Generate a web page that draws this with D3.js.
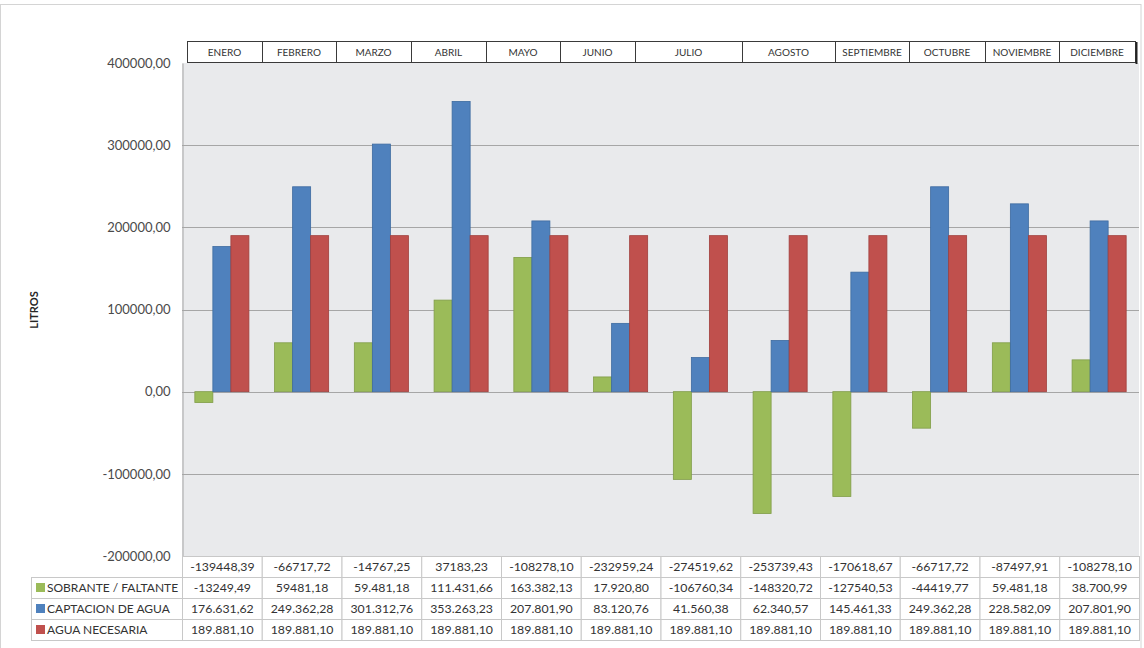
<!DOCTYPE html>
<html><head><meta charset="utf-8">
<script src="https://cdn.jsdelivr.net/npm/d3@7"></script>
<style>
body{margin:0;background:#fff}
svg{display:block;font-family:Lato,'Open Sans',sans-serif}
</style>
</head><body>
<svg id="c" width="1144" height="648"></svg>
<script>
// ---------- DATA ----------
const months = ["ENERO","FEBRERO","MARZO","ABRIL","MAYO","JUNIO","JULIO","AGOSTO","SEPTIEMBRE","OCTUBRE","NOVIEMBRE","DICIEMBRE"];
const seriesNames = ["SOBRANTE / FALTANTE","CAPTACION DE AGUA","AGUA NECESARIA"];
const sobrante = [-13249.49,59481.18,59481.18,111431.66,163382.13,17920.80,-106760.34,-148320.72,-127540.53,-44419.77,59481.18,38700.99];
const captacion = [176631.62,249362.28,301312.76,353263.23,207801.90,83120.76,41560.38,62340.57,145461.33,249362.28,228582.09,207801.90];
const necesaria = [189881.10,189881.10,189881.10,189881.10,189881.10,189881.10,189881.10,189881.10,189881.10,189881.10,189881.10,189881.10];
const diferencia = [-139448.39,-66717.72,-14767.25,37183.23,-108278.10,-232959.24,-274519.62,-253739.43,-170618.67,-66717.72,-87497.91,-108278.10];
const yTicks = [-200000,-100000,0,100000,200000,300000,400000];
const sobrantePlainIdx = [0,1,6,7,8,9]; // cells shown without thousands separator
const axisTitle = "LITROS";

// ---------- LAYOUT ----------
const W = 1144, H = 648;
const plot = {l:182, r:1139, t:63, b:556};
const headerEdges = [187,262,336,411,486,560,635,742,835,909,985,1059,1135];
const headerTop = 41, headerH = 21;
const rowH = 21;
const labelColLeft = 31;
const colors = ["#9BBB59","#4F81BD","#C0504D"];
const strokes = ["#809D48","#3E6BA0","#A03F3C"];

const svg = d3.select("#c");

// chart frame
svg.append("rect").attr("x",0.5).attr("y",4.5).attr("width",1140.5).attr("height",660)
  .attr("fill","none").attr("stroke","#d4d4d4");

const y = d3.scaleLinear().domain([-200000,400000]).range([plot.b, plot.t]);
const cols = d3.scaleBand().domain(months).range([plot.l, plot.r]);
const x0 = d3.scaleBand().domain(months).range([plot.l, plot.r]).paddingInner(0.322).paddingOuter(0.161);
const x1 = d3.scaleBand().domain(seriesNames).range([0, x0.bandwidth()]);

// plot background
svg.append("rect").attr("x",plot.l).attr("y",plot.t).attr("width",plot.r-plot.l).attr("height",plot.b-plot.t)
  .attr("fill","#E9EAEC");

// gridlines
svg.append("g").selectAll("line").data(yTicks.filter(d=>d>-200000 && d<400000)).join("line")
  .attr("x1",plot.l).attr("x2",plot.r)
  .attr("y1",d=>Math.round(y(d))+0.5).attr("y2",d=>Math.round(y(d))+0.5)
  .attr("stroke","#A6A6A6").attr("stroke-width",1);

// y axis
const locPlain = d3.formatLocale({decimal:",",thousands:"",grouping:[3],currency:["",""],minus:"-"});
const locDot = d3.formatLocale({decimal:",",thousands:".",grouping:[3],currency:["",""],minus:"-"});
const fmtAxis = locPlain.format(".2f");
const fmtDot = locDot.format(",.2f");
const yAxis = d3.axisLeft(y).tickValues(yTicks).tickFormat(fmtAxis).tickSize(0).tickPadding(12);
const ga = svg.append("g").attr("transform",`translate(${plot.l+0.5},0)`).call(yAxis);
ga.select(".domain").attr("stroke","#A6A6A6");
ga.selectAll("text").attr("font-size","13px").attr("fill","#4a4a4a").attr("font-family","Lato,'Open Sans',sans-serif");

// axis title
svg.append("text").attr("transform","translate(38,310) rotate(-90)")
  .attr("text-anchor","middle").attr("font-size","11px").attr("font-weight","bold").attr("fill","#262626")
  .text(axisTitle);

// bars
const series = [sobrante, captacion, necesaria];
const barData = [];
months.forEach((m,i)=>series.forEach((s,k)=>barData.push({m, k, v:s[i]})));
svg.append("g").selectAll("rect").data(barData).join("rect")
  .attr("x",d=>x0(d.m)+x1(seriesNames[d.k]))
  .attr("width",x1.bandwidth())
  .attr("y",d=>y(Math.max(0,d.v)))
  .attr("height",d=>Math.abs(y(d.v)-y(0)))
  .attr("fill",d=>colors[d.k]).attr("stroke",d=>strokes[d.k]).attr("stroke-width",0.8);

// header (month names)
const hg = svg.append("g");
months.forEach((m,i)=>{
  const xa = headerEdges[i], xb = headerEdges[i+1];
  hg.append("rect").attr("x",xa+0.5).attr("y",headerTop+0.5).attr("width",xb-xa).attr("height",headerH)
    .attr("fill","#fff").attr("stroke","#3a3a3a").attr("stroke-width",1);
  hg.append("text").attr("x",(xa+xb)/2).attr("y",headerTop+headerH/2+4)
    .attr("text-anchor","middle").attr("font-size","10px").attr("fill","#333").text(m);
});
hg.append("line").attr("x1",headerEdges[12]+1.5).attr("x2",headerEdges[12]+1.5)
  .attr("y1",headerTop+1).attr("y2",headerTop+headerH+2).attr("stroke","#222").attr("stroke-width",2);

// data table
const rows = [
  {label:null, vals:diferencia, fmt:(v,i)=>fmtAxis(v)},
  {label:seriesNames[0], color:colors[0], vals:sobrante, fmt:(v,i)=>sobrantePlainIdx.includes(i)?fmtAxis(v):fmtDot(v)},
  {label:seriesNames[1], color:colors[1], vals:captacion, fmt:(v,i)=>fmtDot(v)},
  {label:seriesNames[2], color:colors[2], vals:necesaria, fmt:(v,i)=>fmtDot(v)}
];
const tg = svg.append("g");
rows.forEach((r,ri)=>{
  const ty = plot.b + ri*rowH;
  if (r.label){
    tg.append("rect").attr("x",labelColLeft+0.5).attr("y",ty+0.5).attr("width",plot.l-labelColLeft).attr("height",rowH)
      .attr("fill","#fff").attr("stroke","#C8C8C8");
    tg.append("rect").attr("x",labelColLeft+5).attr("y",ty+6).attr("width",9).attr("height",9)
      .attr("fill",r.color);
    tg.append("text").attr("x",labelColLeft+16).attr("y",ty+rowH/2+4.5)
      .attr("font-size","12px").attr("fill","#333").text(r.label);
  }
  months.forEach((m,i)=>{
    tg.append("rect").attr("x",cols(m)+0.5).attr("y",ty+0.5).attr("width",cols.bandwidth()).attr("height",rowH)
      .attr("fill","#fff").attr("stroke","#C8C8C8");
    tg.append("text").attr("x",cols(m)+cols.bandwidth()/2+0.5).attr("y",ty+rowH/2+4.5)
      .attr("text-anchor","middle").attr("font-size","12.3px").attr("fill","#333").text(r.fmt(r.vals[i],i));
  });
});
</script>
</body></html>
